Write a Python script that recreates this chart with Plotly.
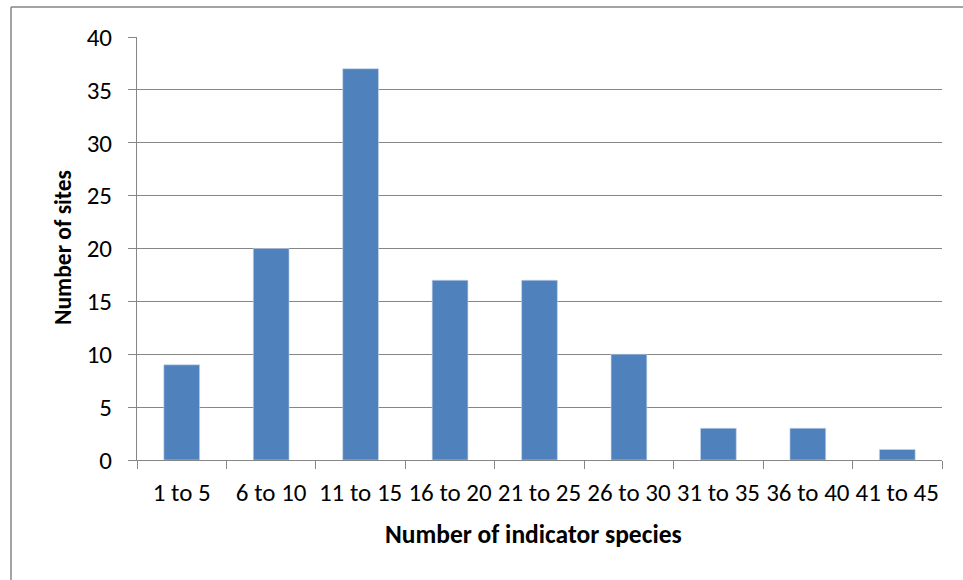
import plotly.graph_objects as go

categories = ["1 to 5", "6 to 10", "11 to 15", "16 to 20", "21 to 25",
              "26 to 30", "31 to 35", "36 to 40", "41 to 45"]
sites = [9, 20, 37, 17, 17, 10, 3, 3, 1]
y_ticks = [0, 5, 10, 15, 20, 25, 30, 35, 40]

W, H = 963, 580
L, R, T, B = 137, 21, 37, 120
PW, PH = W - L - R, H - T - B

def px(x):
    return (x - L) / PW

def py(y):
    return (H - B - y) / PH

FONT = "Carlito, Lato, sans-serif"
GRID = "#868686"
TICK_SIZE = 25

fig = go.Figure(go.Bar(
    x=categories, y=sites,
    marker=dict(color="#4F81BD", line=dict(color="#c9d7ea", width=0.6)),
))

fig.update_layout(
    width=W, height=H,
    margin=dict(l=L, r=R, t=T, b=B, autoexpand=False),
    paper_bgcolor="white", plot_bgcolor="white",
    bargap=0.6,
    showlegend=False,
    font=dict(family=FONT, size=TICK_SIZE, color="black"),
    xaxis=dict(
        type="category", showline=True, linecolor=GRID, linewidth=1,
        ticks="outside", tickson="boundaries", ticklen=8, tickcolor=GRID,
        showgrid=False, ticklabelstandoff=10, tickangle=0,
        tickfont=dict(family=FONT, size=TICK_SIZE, color="black"),
    ),
    yaxis=dict(
        range=[0, 40], tickvals=y_ticks, showline=True, linecolor=GRID, linewidth=1,
        ticks="outside", ticklen=8, tickcolor=GRID,
        showgrid=True, gridcolor=GRID, gridwidth=1, zeroline=False,
        ticklabelstandoff=11,
        tickfont=dict(family=FONT, size=TICK_SIZE, color="black"),
    ),
    annotations=[
        dict(text="<b>Number of sites</b>", textangle=-90, xref="paper", yref="paper",
             x=px(63), y=py(248), xanchor="center", yanchor="middle", showarrow=False,
             font=dict(family=FONT, size=23.5, color="black")),
        dict(text="<b>Number of indicator species</b>", xref="paper", yref="paper",
             x=px(533), y=py(534), xanchor="center", yanchor="middle", showarrow=False,
             font=dict(family=FONT, size=25.5, color="black")),
    ],
    shapes=[
        dict(type="line", xref="paper", yref="paper", x0=px(11), x1=px(11), y0=py(7), y1=py(590),
             line=dict(color=GRID, width=1.5)),
        dict(type="line", xref="paper", yref="paper", x0=px(11), x1=px(970), y0=py(7), y1=py(7),
             line=dict(color=GRID, width=1.5)),
    ],
)

fig.write_html("out.html", post_script="document.body.style.margin='0';",
               config={"displayModeBar": False})
